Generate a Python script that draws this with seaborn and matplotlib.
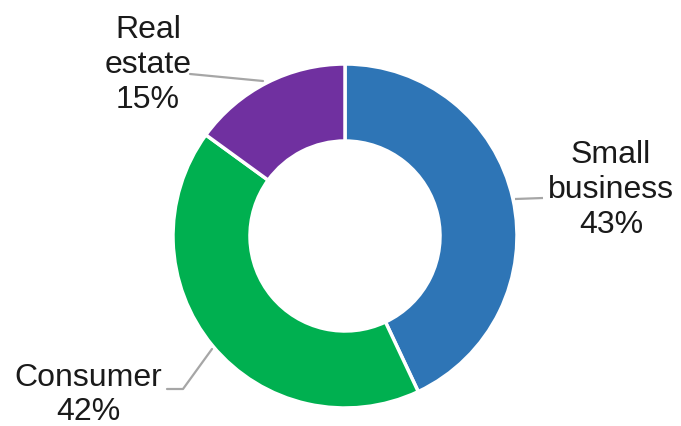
import matplotlib
matplotlib.use("Agg")
import matplotlib.pyplot as plt
import seaborn as sns

categories = ["Small business", "Consumer", "Real estate"]
values = [43, 42, 15]
label_texts = ["Small\nbusiness\n43%", "Consumer\n42%", "Real\nestate\n15%"]
colors = ["#2E75B6", "#00B050", "#7030A0"]

sns.set_theme(style="white")
plt.rcParams["font.family"] = ["Liberation Sans", "DejaVu Sans"]

W, H = 681, 427
fig = plt.figure(figsize=(W / 100, H / 100), dpi=100)
ax = fig.add_axes([0, 0, 1, 1])

cx, cy, r = 345, H - 237, 172
ax.pie(values, colors=colors, startangle=90, counterclock=False,
       center=(cx, cy), radius=r, frame=True,
       wedgeprops=dict(width=77, edgecolor="white", linewidth=2.5))
ax.set_xlim(0, W)
ax.set_ylim(0, H)
ax.axis("off")

def py(y):
    return H - y

lc = "#A6A6A6"
# leader lines
ax.plot([515, 543], [py(200), py(199)], color=lc, lw=1.6, solid_capstyle="butt")
ax.plot([167, 183, 212], [py(390), py(390), py(350)], color=lc, lw=1.6)
ax.plot([190, 263], [py(75), py(82)], color=lc, lw=1.6)

fs = 23
ls = 1.2
ax.text(611, py(190), label_texts[0], ha="center", va="center", fontsize=fs,
        linespacing=ls, color="#1a1a1a")
ax.text(88, py(395), label_texts[1], ha="center", va="center", fontsize=fs,
        linespacing=ls, color="#1a1a1a")
ax.text(148, py(65), label_texts[2], ha="center", va="center", fontsize=fs,
        linespacing=ls, color="#1a1a1a")

fig.savefig("out.png", dpi=100, facecolor="white")
